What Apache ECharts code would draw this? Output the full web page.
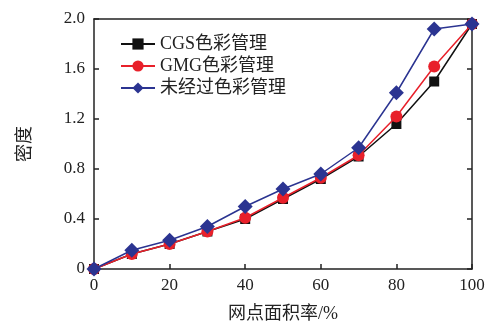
<!DOCTYPE html>
<html><head><meta charset="utf-8">
<script src="https://cdn.jsdelivr.net/npm/echarts@6/dist/echarts.min.js"></script>
<style>html,body{margin:0;padding:0;background:#fff}#c{width:492px;height:322px}</style>
</head><body><div id="c"></div>
<script>
const xValues = [0,10,20,30,40,50,60,70,80,90,100];
const cgs = [0,0.12,0.20,0.30,0.40,0.56,0.72,0.90,1.16,1.50,1.96];
const gmg = [0,0.12,0.20,0.30,0.41,0.57,0.73,0.91,1.22,1.62,1.96];
const none = [0,0.15,0.23,0.34,0.50,0.64,0.76,0.97,1.41,1.92,1.96];
const names = ['CGS色彩管理','GMG色彩管理','未经过色彩管理'];
const font = '"Liberation Serif","Noto Sans CJK SC",serif';
const pair = a => a.map((v,i)=>[xValues[i],v]);
const chart = echarts.init(document.getElementById('c'));
const axisCommon = {
  axisLine:{show:true,onZero:false,lineStyle:{color:'#222',width:1.5}},
  axisTick:{show:true,inside:true,length:5,lineStyle:{color:'#222',width:1.5}},
  splitLine:{show:false}
};
chart.setOption({
  animation:false,
  grid:{left:94,right:20,top:19,bottom:53,containLabel:false,outerBoundsMode:'none'},
  legend:{
    left:115,top:30,orient:'vertical',itemGap:4,itemWidth:34,itemHeight:14,
    textStyle:{fontFamily:font,fontSize:18,color:'#222'},
    data:names
  },
  xAxis:[
    Object.assign({type:'value',min:0,max:100,interval:20,
      name:'网点面积率/%',nameLocation:'middle',nameGap:36,
      nameTextStyle:{fontFamily:font,fontSize:18,color:'#222'},
      axisLabel:{fontFamily:font,fontSize:17,color:'#222',margin:8}},axisCommon),
    Object.assign({type:'value',min:0,max:100,interval:20,position:'top',
      axisLabel:{show:false}},axisCommon,{axisTick:{show:false}})
  ],
  yAxis:[
    Object.assign({type:'value',min:0,max:2,interval:0.4,
      name:'密度',nameLocation:'middle',nameGap:60,nameRotate:90,
      nameTextStyle:{fontFamily:font,fontSize:18,color:'#222'},
      axisLabel:{fontFamily:font,fontSize:17,color:'#222',margin:9,
        formatter:v=>v===0?'0':v.toFixed(1)}},axisCommon),
    Object.assign({type:'value',min:0,max:2,interval:0.4,position:'right',
      axisLabel:{show:false}},axisCommon)
  ],
  series:[
    {name:names[0],type:'line',data:pair(cgs),symbol:'rect',symbolSize:10,
      lineStyle:{color:'#111',width:1.5},itemStyle:{color:'#111'},z:2},
    {name:names[1],type:'line',data:pair(gmg),symbol:'circle',symbolSize:12,
      lineStyle:{color:'#e8202a',width:1.5},itemStyle:{color:'#e8202a'},z:3},
    {name:names[2],type:'line',data:pair(none),symbol:'diamond',symbolSize:15,
      lineStyle:{color:'#2b3491',width:1.5},itemStyle:{color:'#2b3491'},z:4}
  ]
});
</script></body></html>
